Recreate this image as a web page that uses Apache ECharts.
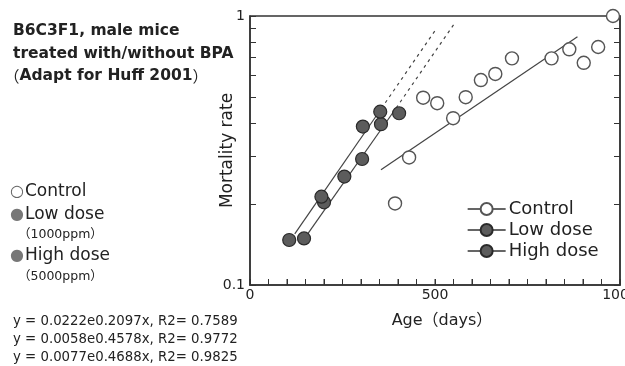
<!DOCTYPE html>
<html>
<head>
<meta charset="utf-8">
<script src="https://cdn.jsdelivr.net/npm/echarts@6/dist/echarts.min.js"></script>
<style>
  html, body { margin: 0; background: #fff; }
  #chart { width: 625px; height: 366px; }
</style>
</head>
<body>
<div id="chart"></div>
<script>
// mortality data (age in days, mortality rate)
const controlDays = [392, 430, 468, 506, 549, 583, 624, 663, 708, 815, 863, 902, 941, 981]
const controlRate = [0.201, 0.298, 0.497, 0.474, 0.417, 0.499, 0.578, 0.609, 0.696, 0.696, 0.752, 0.670, 0.767, 1.0]
const lowDays = [146, 200, 255, 303, 354, 403]
const lowRate = [0.149, 0.203, 0.253, 0.294, 0.396, 0.435]
const highDays = [106, 193, 305, 352]
const highRate = [0.147, 0.213, 0.388, 0.441]

// fitted exponential lines (end points), dashed part = extrapolation
const controlFit = [[354, 0.268], [885, 0.838]]
const lowFit = [[156, 0.155], [395, 0.455]]
const lowFitExt = [[395, 0.455], [551, 0.931]]
const highFit = [[121, 0.155], [355, 0.453]]
const highFitExt = [[355, 0.453], [502, 0.89]]

const yTickValues = [0.1, 0.2, 0.3, 0.4, 0.5, 0.6, 0.7, 0.8, 0.9, 1]
const yLabelValues = [0.1, 1]
const xTickValues = [0, 50, 100, 150, 200, 250, 300, 350, 400, 450, 500,
  550, 600, 650, 700, 750, 800, 850, 900, 950, 1000]
const xLabelValues = [0, 500, 1000]

const titleLines = ['B6C3F1, male mice', 'treated with/without BPA', '{p|（}Adapt for Huff 2001{p|）}']
const equations = [
  'y = 0.0222e0.2097x, R2= 0.7589',
  'y = 0.0058e0.4578x, R2= 0.9772',
  'y = 0.0077e0.4688x, R2= 0.9825'
]

const lg = v => Math.log10(v)
const toPts = (xs, ys) => xs.map((x, i) => [x, lg(ys[i])])
const toLine = arr => arr.map(p => [p[0], lg(p[1])])

const FONT = '"DejaVu Sans", "Noto Sans CJK JP", sans-serif'
const CJK = '"Noto Sans CJK JP", sans-serif'
const ink = '#222'

const chart = echarts.init(document.getElementById('chart'))

const fitStyle = { color: '#444', width: 1.2 }
const fitLine = (data, dashed) => ({
  type: 'line',
  data: toLine(data),
  showSymbol: false,
  silent: true,
  lineStyle: dashed ? { ...fitStyle, type: [3, 4] } : fitStyle,
  z: 1
})

const txt = (text, x, y, size, weight, fill) => ({
  type: 'text',
  x, y,
  style: {
    text, fontSize: size, fontWeight: weight || 'normal', fontFamily: FONT,
    fill: fill || ink, verticalAlign: 'middle', align: 'left',
    rich: { p: { fontFamily: CJK, fontSize: size, fontWeight: 'normal', fill: fill || ink } }
  }
})

chart.setOption({
  animation: false,
  backgroundColor: '#fff',
  grid: {
    left: 250, top: 16, width: 370, height: 269,
    outerBoundsMode: 'none',
    show: true, borderColor: '#333', borderWidth: 1.5
  },
  xAxis: {
    type: 'value', min: 0, max: 1000, interval: 50,
    axisLine: { show: true, onZero: false, lineStyle: { color: '#333', width: 1.5 } },
    axisTick: { show: true, inside: true, length: 6, lineStyle: { color: '#333', width: 1 } },
    axisLabel: {
      margin: 3, fontSize: 14, fontFamily: FONT, color: ink,
      formatter: v => (xLabelValues.includes(v) ? String(v) : '')
    },
    splitLine: { show: false },
    name: 'Age（days）', nameLocation: 'middle', nameGap: 28,
    nameTextStyle: { fontSize: 16, fontFamily: FONT, color: ink, padding: [0, 0, 0, 14] }
  },
  yAxis: [
    {
      type: 'value', min: -1, max: 0,
      axisLine: { show: true, onZero: false, lineStyle: { color: '#333', width: 1.5 } },
      axisTick: { inside: true, length: 6, customValues: yTickValues.map(lg), lineStyle: { color: '#333' } },
      axisLabel: {
        customValues: yLabelValues.map(lg), margin: 5,
        fontSize: 14, fontFamily: FONT, color: ink,
        formatter: v => String(+Math.pow(10, v).toFixed(3))
      },
      splitLine: { show: false },
      name: 'Mortality rate', nameLocation: 'middle', nameGap: 14, nameRotate: 90,
      nameMoveOverlap: false,
      nameTextStyle: { fontSize: 17, fontFamily: FONT, color: ink }
    },
    {
      type: 'value', min: -1, max: 0, position: 'right',
      axisLine: { show: true, onZero: false, lineStyle: { color: '#333', width: 1.5 } },
      axisTick: { inside: true, length: 6, customValues: yTickValues.map(lg), lineStyle: { color: '#333' } },
      axisLabel: { show: false }, splitLine: { show: false }
    }
  ],
  legend: {
    data: ['Control', 'Low dose', 'High dose'],
    orient: 'vertical', left: 462, top: 195,
    itemWidth: 38, itemHeight: 15, itemGap: 3,
    lineStyle: { color: '#333', width: 1.3, opacity: 1 },
    textStyle: { fontSize: 18, fontFamily: FONT, color: ink, padding: [0, 0, 0, -2] },
    selectedMode: false
  },
  series: [
    {
      // short upward ticks on the age axis, placed through the axis scale
      type: 'custom',
      silent: true,
      data: xTickValues.map(v => [v, -1]),
      renderItem: (params, api) => {
        const p = api.coord([api.value(0), api.value(1)])
        return {
          type: 'line',
          shape: { x1: p[0], y1: p[1], x2: p[0], y2: p[1] - 6 },
          style: { stroke: '#333', lineWidth: 1 }
        }
      },
      z: 2
    },
    fitLine(controlFit),
    fitLine(lowFit), fitLine(lowFitExt, true),
    fitLine(highFit), fitLine(highFitExt, true),
    {
      name: 'Control', type: 'line', data: toPts(controlDays, controlRate),
      symbol: 'circle', symbolSize: 13, lineStyle: { width: 0 },
      itemStyle: { color: '#fff', borderColor: '#555', borderWidth: 1.4 }, z: 3
    },
    {
      name: 'Low dose', type: 'line', data: toPts(lowDays, lowRate),
      symbol: 'circle', symbolSize: 13, lineStyle: { width: 0 },
      itemStyle: { color: '#5c5c5c', borderColor: '#2a2a2a', borderWidth: 1.2 }, z: 3
    },
    {
      name: 'High dose', type: 'line', data: toPts(highDays, highRate),
      symbol: 'circle', symbolSize: 13, lineStyle: { width: 0 },
      itemStyle: { color: '#5c5c5c', borderColor: '#2a2a2a', borderWidth: 1.2 }, z: 3
    }
  ],
  graphic: [
    txt(titleLines[0], 13, 31, 15.5, 'bold'),
    txt(titleLines[1], 13, 54, 15.5, 'bold'),
    txt(titleLines[2], 4, 76, 15.5, 'bold'),
    txt('○', 10, 192, 16, 'normal', '#666'),
    txt('Control', 25, 192, 17),
    txt('●', 10, 215, 16, 'normal', '#777'),
    txt('Low dose', 25, 215, 17),
    txt('（1000ppm）', 18, 235, 12.5),
    txt('●', 10, 256, 16, 'normal', '#777'),
    txt('High dose', 25, 256, 17),
    txt('（5000ppm）', 18, 277, 12.5),
    txt(equations[0], 13, 322, 13.3),
    txt(equations[1], 13, 340, 13.3),
    txt(equations[2], 13, 358, 13.3)
  ]
})
</script>
</body>
</html>
